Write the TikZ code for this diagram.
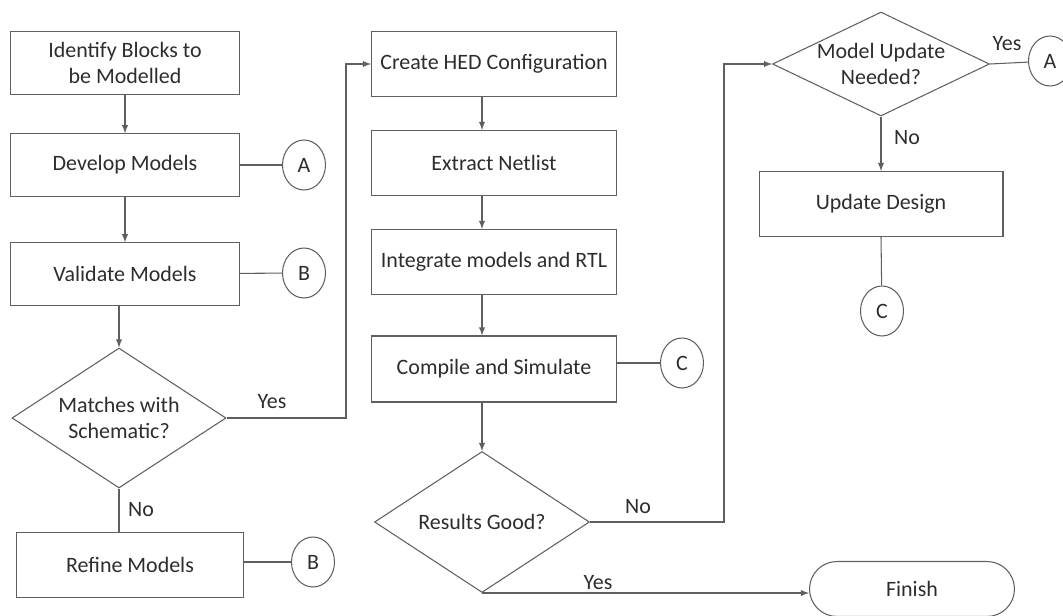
\documentclass[tikz,border=0pt]{standalone}
\usepackage{fontspec}
\setmainfont{Carlito}
\usetikzlibrary{shapes,shapes.geometric}
\usetikzlibrary{arrows}
\usetikzlibrary{calc}
\definecolor{lineclr}{RGB}{95,95,95}
\definecolor{textclr}{RGB}{45,45,45}

\begin{document}
\begin{tikzpicture}[x=0.02cm, y=-0.02cm, lineclr, line width=0.6pt,
	every node/.style={text=textclr, font=\fontsize{12.5}{15}\selectfont},
	blk/.style={draw, rectangle, minimum width=4.58cm, minimum height=1.25cm, align=center, inner sep=0pt},
	midblk/.style={blk, minimum width=4.9cm, minimum height=1.3cm},
	dec/.style={draw, diamond, inner sep=0pt, minimum width=4.3cm, minimum height=2.82cm},
	con/.style={draw, ellipse, minimum width=0.86cm, minimum height=1cm, inner sep=0pt},
	term/.style={draw, rectangle, rounded corners=0.55cm, minimum width=4.1cm, minimum height=1.1cm}]
	\useasboundingbox (0,0) rectangle (1063,616);
	\node[blk] (identify) at (125,63) {Identify Blocks to\\be Modelled};
	\node[blk] (develop) at (125,165) {Develop Models};
	\node[blk] (validate) at (125,274) {Validate Models};
	\node[dec, minimum width=4.28cm, minimum height=2.8cm, label={[align=center]center:Matches with\\Schematic?}] (matches) at (119,418) {};
	\node[blk, minimum width=4.54cm, minimum height=1.3cm] (refine) at (130,565) {Refine Models};
	\node[con] (conA) at (304,165) {A};
	\node[con] (conB) at (304,273) {B};
	\node[con] (conBb) at (313,562) {B};
	\node[midblk] (create) at (494,64) {Create HED Configuration};
	\node[midblk] (extract) at (494,163) {Extract Netlist};
	\node[midblk] (integrate) at (494,262) {Integrate models and RTL};
	\node[midblk, minimum height=1.32cm] (compile) at (494,369) {Compile and Simulate};
	\node[con] (conC) at (682,363) {C};
	\node[dec, label=center:Results Good?] (results) at (482,522) {};
	\node[term] (finish) at (912,589) {Finish};
	\node[dec, minimum width=4.34cm, minimum height=2.08cm, label={[align=center]center:Model Update\\Needed?}] (model) at (881,64) {};
	\node[con] (conAa) at (1050,61) {A};
	\node[midblk, minimum width=4.88cm] (update) at (881,204) {Update Design};
	\node[con] (conCc) at (882,311) {C};
	\coordinate (yesbend) at (346,418);
	\coordinate (nobend) at (724,522);
	\draw[-latex] (identify) -- (develop);
	\draw[-latex] (develop) -- (validate);
	\draw[-latex] (matches.north |- validate.south) -- (matches.north);
	\draw (develop) -- (conA);
	\draw (validate) -- (conB);
	\draw (refine.east |- conBb) -- (conBb);
	\draw (matches.south) -- (matches.south |- refine.north);
	\draw[-latex] (matches.east) -- (yesbend) |- (create.west);
	\draw[-latex] (results.north |- create.south) -- (results.north |- extract.north);
	\draw[-latex] (results.north |- extract.south) -- (results.north |- integrate.north);
	\draw[-latex] (results.north |- integrate.south) -- (results.north |- compile.north);
	\draw[-latex] (results.north |- compile.south) -- (results.north);
	\draw (compile.east |- conC) -- (conC);
	\draw[-latex] (results.east) -- (nobend) |- (model.west);
	\draw[-latex] (results.south) -- (results.south -| finish.west);
	\draw (model.east) -- (conAa);
	\draw[-latex] (model.south) -- (update.north);
	\draw (update.south) -- (conCc);
	\node at (272,402) {Yes};
	\node at (141,510) {No};
	\node at (638,507) {No};
	\node at (598,583) {Yes};
	\node at (1007,44) {Yes};
	\node at (907,138) {No};
\end{tikzpicture}
\end{document}
